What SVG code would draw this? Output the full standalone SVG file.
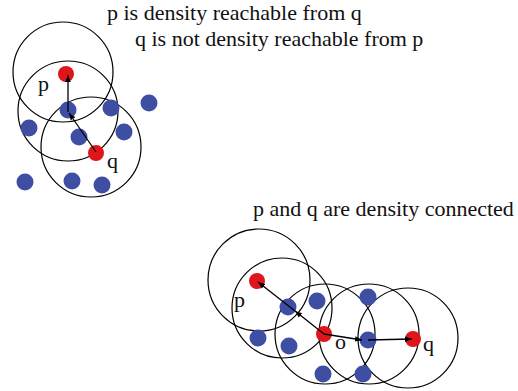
<svg xmlns="http://www.w3.org/2000/svg" width="518" height="391" viewBox="0 0 518 391">
<defs>
<marker id="ah" viewBox="0 0 10 10" refX="10" refY="5" markerWidth="7" markerHeight="7" markerUnits="userSpaceOnUse" orient="auto">
<path d="M0,1 L10,5 L0,9 Z" fill="#000"/>
</marker>
<style>
.ring{fill:none;stroke:#000;stroke-width:1.2}
.red{fill:#e0141b}
.blue{fill:#3e4fa3}
.edge{stroke:#000;stroke-width:1.3;fill:none;marker-end:url(#ah)}
text{font-family:"Liberation Serif","Times New Roman",serif;font-size:22px;fill:#111}
</style>
</defs>
<rect width="518" height="391" fill="#fff"/>
<g id="captions">
<text x="107" y="20">p is density reachable from q</text>
<text x="135" y="46">q is not density reachable from p</text>
<text x="253" y="216">p and q are density connected</text>
</g>
<g id="top-neighbourhoods">
<circle class="ring" cx="63" cy="72" r="50"/>
<circle class="ring" cx="68" cy="111" r="50"/>
<circle class="ring" cx="91" cy="147" r="50"/>
</g>
<g id="bottom-neighbourhoods">
<circle class="ring" cx="259" cy="280" r="51"/>
<circle class="ring" cx="282" cy="308" r="50"/>
<circle class="ring" cx="325" cy="334" r="50"/>
<circle class="ring" cx="369" cy="334" r="50"/>
<circle class="ring" cx="408" cy="338" r="50"/>
</g>
<g id="top-points">
<g id="top-p"><circle class="red" cx="66" cy="74" r="8"/><text x="38" y="91">p</text></g>
<g id="top-q"><circle class="red" cx="96" cy="153" r="8"/><text x="107" y="168">q</text></g>
<circle class="blue" cx="68" cy="110" r="8.5"/>
<circle class="blue" cx="111" cy="108" r="8.5"/>
<circle class="blue" cx="149" cy="103" r="8.5"/>
<circle class="blue" cx="29" cy="128" r="8.5"/>
<circle class="blue" cx="79" cy="137" r="8.5"/>
<circle class="blue" cx="124" cy="132" r="8.5"/>
<circle class="blue" cx="25" cy="182" r="8.5"/>
<circle class="blue" cx="72" cy="181" r="8.5"/>
<circle class="blue" cx="102" cy="185" r="8.5"/>
</g>
<g id="bottom-points">
<g id="bot-p"><circle class="red" cx="257" cy="281" r="8"/><text x="234" y="307">p</text></g>
<g id="bot-o"><circle class="red" cx="324" cy="334" r="8"/><text x="335" y="349">o</text></g>
<g id="bot-q"><circle class="red" cx="413" cy="339" r="8"/><text x="423" y="351">q</text></g>
<circle class="blue" cx="288" cy="307" r="8.5"/>
<circle class="blue" cx="317" cy="301" r="8.5"/>
<circle class="blue" cx="368" cy="297" r="8.5"/>
<circle class="blue" cx="258" cy="338" r="8.5"/>
<circle class="blue" cx="289" cy="346" r="8.5"/>
<circle class="blue" cx="368" cy="340" r="8.5"/>
<circle class="blue" cx="323" cy="374" r="8.5"/>
<circle class="blue" cx="363" cy="374" r="8.5"/>
</g>
<g id="connectors">
<line class="edge" x1="96" y1="152" x2="69" y2="113"/>
<line class="edge" x1="68" y1="112" x2="68" y2="75"/>
<line class="edge" x1="324" y1="334" x2="295" y2="311"/>
<line class="edge" x1="295" y1="311" x2="258" y2="282"/>
<line class="edge" x1="324" y1="334" x2="362" y2="340"/>
<line class="edge" x1="368" y1="340" x2="412" y2="339"/>
</g>
</svg>
